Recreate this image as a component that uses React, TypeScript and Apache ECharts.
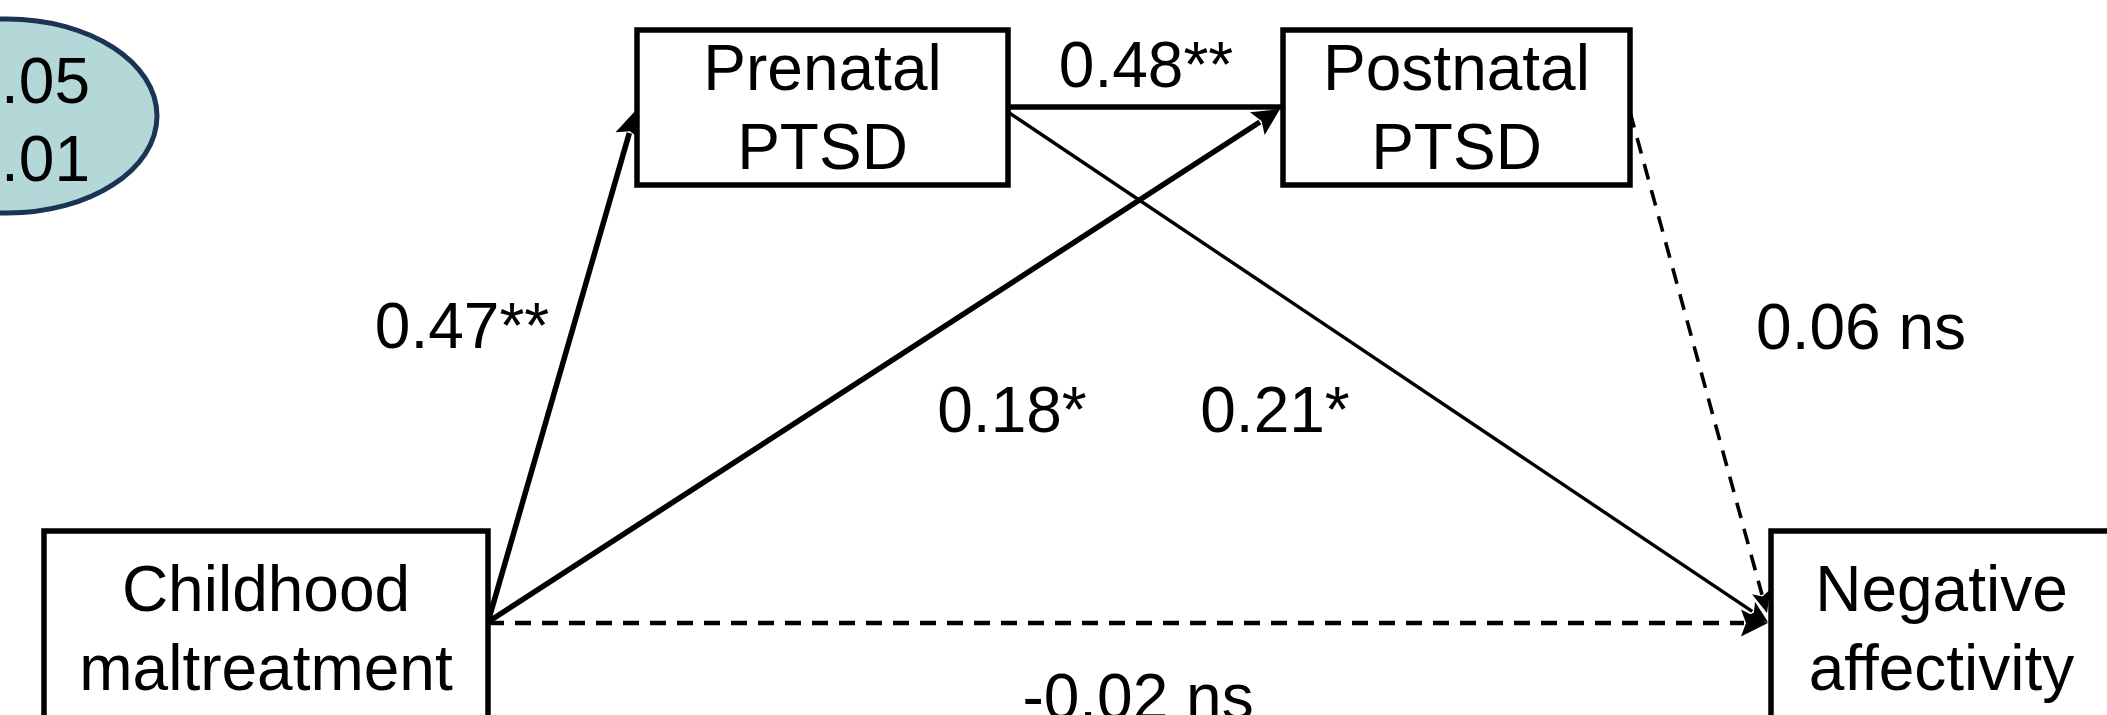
import React, { useEffect, useRef } from "react";
import * as echarts from "echarts";

// ---- data ----
const nodeLabels = ["Childhood\nmaltreatment", "Prenatal\nPTSD", "Postnatal\nPTSD", "Negative\naffectivity"];
const pathFrom = [0, 1, 0, 1, 2, 0];
const pathTo = [1, 2, 2, 3, 3, 3];
const pathCoefficients = ["0.47**", "0.48**", "0.18*", "0.21*", "0.06 ns", "-0.02 ns"];
const pathSignificant = [true, true, true, true, false, false];
const legendLines = ["* p < .05", "** p < .01"];

// ---- layout (units of the hidden axes, which span the page) ----
const W = 2107;
const H = 715;
const nodeBoxes = [
  [44, 531, 488, 725],
  [637, 30, 1008, 185],
  [1283, 30, 1630, 185],
  [1771, 531, 2112, 725],
];
const pathStart = [[488, 622], [1008, 107], [488, 622], [1008, 112], [1630, 112], [488, 623]];
const pathEnd = [[636, 110], [1283, 107], [1280, 109], [1768, 622], [1767, 613], [1768, 623]];
const pathWidth = [5.5, 5.5, 5.5, 3.4, 3.6, 4.5];
const pathHead = [true, false, true, true, true, true];
const labelPos = [[462, 326], [1146, 65], [1012, 410], [1275, 410], [1861, 327], [1138, 697]];
const legendEllipse = { cx: 7, cy: 116, rx: 150, ry: 97 };
const legendTextRight = 90;
const legendTextY = [81, 159];

const FONT = '64px "Liberation Sans", Arial, sans-serif';

export default function App() {
  const ref = useRef<HTMLDivElement>(null);
  useEffect(() => {
    document.body.style.margin = "0";
    if (!ref.current) return;
    const chart = echarts.init(ref.current, null, { renderer: "svg" });

    const option: any = {
      animation: false,
      backgroundColor: "#ffffff",
      grid: { left: 0, right: 0, top: 0, bottom: 0 },
      xAxis: { type: "value", min: 0, max: W, show: false },
      yAxis: { type: "value", min: 0, max: H, inverse: true, show: false },
      tooltip: { show: false },
      series: [
        {
          type: "custom",
          name: "legend",
          coordinateSystem: "cartesian2d",
          silent: true,
          clip: false,
          data: [[legendEllipse.cx, legendEllipse.cy]],
          renderItem: (params: any, api: any) => {
            const c = api.coord([legendEllipse.cx, legendEllipse.cy]);
            const e = api.coord([legendEllipse.cx + legendEllipse.rx, legendEllipse.cy + legendEllipse.ry]);
            const children: any[] = [
              {
                type: "ellipse",
                shape: { cx: c[0], cy: c[1], rx: e[0] - c[0], ry: e[1] - c[1] },
                style: { fill: "#b3d8d7", stroke: "#1c3454", lineWidth: 5 },
              },
            ];
            legendLines.forEach((t, i) => {
              const p = api.coord([legendTextRight, legendTextY[i]]);
              children.push({
                type: "text",
                style: {
                  text: t,
                  x: p[0],
                  y: p[1],
                  fill: "#000",
                  font: FONT,
                  textAlign: "right",
                  textVerticalAlign: "middle",
                },
              });
            });
            return { type: "group", children };
          },
        },
        {
          type: "custom",
          name: "paths",
          coordinateSystem: "cartesian2d",
          silent: true,
          clip: false,
          data: pathFrom.map((f, i) => [i, f, pathTo[i]]),
          renderItem: (params: any, api: any) => {
            const i = params.dataIndex;
            const s = api.coord(pathStart[i]);
            const t = api.coord(pathEnd[i]);
            const dx = t[0] - s[0];
            const dy = t[1] - s[1];
            const len = Math.sqrt(dx * dx + dy * dy);
            const ux = dx / len;
            const uy = dy / len;
            const lw = pathWidth[i];
            const big = lw >= 4.4;
            const headL = big ? 27 : 22;
            const headW = big ? 27 : 19;
            const hasHead = pathHead[i];
            const bx = t[0] - ux * (hasHead ? headL : 0);
            const by = t[1] - uy * (hasHead ? headL : 0);
            const px = -uy;
            const py = ux;
            const dashed = !pathSignificant[i];
            const children: any[] = [
              {
                type: "line",
                shape: {
                  x1: s[0],
                  y1: s[1],
                  x2: hasHead ? bx + ux * 3 : t[0],
                  y2: hasHead ? by + uy * 3 : t[1],
                },
                style: {
                  stroke: "#000",
                  lineWidth: lw,
                  lineDash: dashed ? [16, 11] : null,
                  fill: null,
                },
              },
            ];
            if (hasHead) {
              children.push({
                type: "polygon",
                shape: {
                  points: [
                    [t[0], t[1]],
                    [bx + (px * headW) / 2, by + (py * headW) / 2],
                    [bx + ux * 5, by + uy * 5],
                    [bx - (px * headW) / 2, by - (py * headW) / 2],
                  ],
                },
                style: { fill: "#000", stroke: null },
              });
            }
            return { type: "group", children };
          },
        },
        {
          type: "custom",
          name: "nodes",
          coordinateSystem: "cartesian2d",
          silent: true,
          clip: false,
          data: nodeLabels.map((n, i) => [i]),
          renderItem: (params: any, api: any) => {
            const i = params.dataIndex;
            const b = nodeBoxes[i];
            const a = api.coord([b[0], b[1]]);
            const z = api.coord([b[2], b[3]]);
            return {
              type: "group",
              children: [
                {
                  type: "rect",
                  shape: { x: a[0], y: a[1], width: z[0] - a[0], height: z[1] - a[1] },
                  style: { fill: "#ffffff", stroke: "#000", lineWidth: 5.5 },
                },
                {
                  type: "text",
                  style: {
                    text: nodeLabels[i],
                    x: (a[0] + z[0]) / 2,
                    y: (a[1] + z[1]) / 2,
                    fill: "#000",
                    font: FONT,
                    lineHeight: 79,
                    textAlign: "center",
                    textVerticalAlign: "middle",
                  },
                },
              ],
            };
          },
        },
        {
          type: "custom",
          name: "coefficients",
          coordinateSystem: "cartesian2d",
          silent: true,
          clip: false,
          data: pathCoefficients.map((c, i) => [i]),
          renderItem: (params: any, api: any) => {
            const i = params.dataIndex;
            const p = api.coord(labelPos[i]);
            return {
              type: "text",
              style: {
                text: pathCoefficients[i],
                x: p[0],
                y: p[1],
                fill: "#000",
                font: FONT,
                textAlign: "center",
                textVerticalAlign: "middle",
              },
            };
          },
        },
      ],
    };
    chart.setOption(option);
    return () => chart.dispose();
  }, []);

  return <div ref={ref} style={{ width: W, height: H, background: "#fff" }} />;
}
